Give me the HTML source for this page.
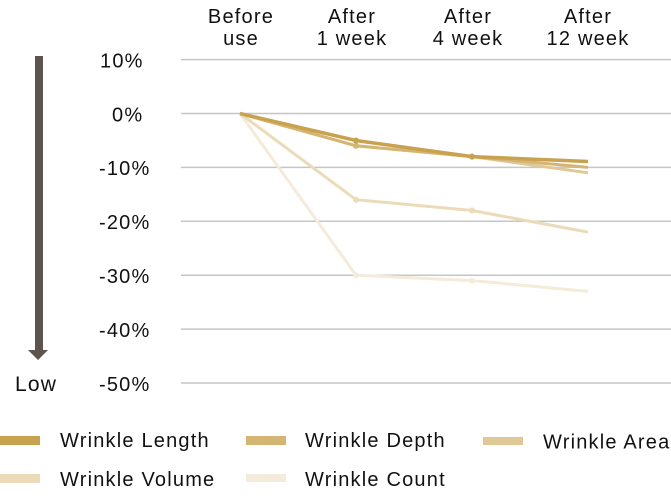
<!DOCTYPE html>
<html>
<head>
<meta charset="utf-8">
<style>
  html, body { margin:0; padding:0; background:#fff; }
  svg { display:block; }
  text { font-family: "Liberation Sans", sans-serif; fill:#111; font-size:20px; letter-spacing:1.2px; }
</style>
</head>
<body>
<svg width="671" height="496" viewBox="0 0 671 496" xmlns="http://www.w3.org/2000/svg">
  <!-- category labels -->
  <g text-anchor="middle">
    <text x="241" y="23">Before</text>
    <text x="241" y="45">use</text>
    <text x="352" y="23">After</text>
    <text x="352" y="45">1 week</text>
    <text x="468" y="23">After</text>
    <text x="468" y="45">4 week</text>
    <text x="588" y="23">After</text>
    <text x="588" y="45">12 week</text>
  </g>

  <!-- gridlines -->
  <g stroke="#c6c6c6" stroke-width="1.5">
    <line x1="181" y1="59.6" x2="671" y2="59.6"/>
    <line x1="181" y1="113.5" x2="671" y2="113.5"/>
    <line x1="181" y1="167.4" x2="671" y2="167.4"/>
    <line x1="181" y1="221.3" x2="671" y2="221.3"/>
    <line x1="181" y1="275.2" x2="671" y2="275.2"/>
    <line x1="181" y1="329.1" x2="671" y2="329.1"/>
    <line x1="181" y1="383" x2="671" y2="383"/>
  </g>

  <!-- y labels -->
  <text x="100" y="67.5">10%</text>
  <text x="112" y="121.5">0%</text>
  <text x="99" y="175">-10%</text>
  <text x="99" y="229">-20%</text>
  <text x="99" y="283">-30%</text>
  <text x="99" y="337">-40%</text>
  <text x="99" y="391">-50%</text>

  <!-- arrow -->
  <rect x="35" y="56" width="8" height="295" fill="#5e544e"/>
  <polygon points="28,350 48,350 38,360" fill="#5e544e"/>
  <text x="15" y="391" style="font-size:21px">Low</text>

  <!-- Count: 0,-30,-31,-33 -->
  <g stroke="#f4ebda" fill="#f4ebda">
    <polyline points="240,113.5 356,275.2 472,280.6 588,291.4" fill="none" stroke-width="3"/>
    <circle cx="356" cy="275.2" r="3" stroke="none"/>
    <circle cx="472" cy="280.6" r="3" stroke="none"/>
  </g>
  <!-- Volume: 0,-16,-18,-22 -->
  <g stroke="#ebdbb8" fill="#ebdbb8">
    <polyline points="240,113.5 356,199.7 472,210.5 588,232.1" fill="none" stroke-width="3"/>
    <circle cx="356" cy="199.7" r="3" stroke="none"/>
    <circle cx="472" cy="210.5" r="3" stroke="none"/>
  </g>
  <!-- Area: 0,-6,-8,-11 -->
  <g stroke="#e0c896" fill="#e0c896">
    <polyline points="240,113.5 356,145.8 472,156.6 588,172.8" fill="none" stroke-width="3"/>
    <circle cx="356" cy="145.8" r="3" stroke="none"/>
    <circle cx="472" cy="156.6" r="3" stroke="none"/>
  </g>
  <!-- Depth: 0,-6,-8,-10 -->
  <g stroke="#d5b574" fill="#d5b574">
    <polyline points="240,113.5 356,145.8 472,156.6 588,167.4" fill="none" stroke-width="3"/>
    <circle cx="356" cy="145.8" r="3" stroke="none"/>
    <circle cx="472" cy="156.6" r="3" stroke="none"/>
  </g>
  <!-- Length: 0,-5,-8,-8.9 -->
  <g stroke="#c8a24e" fill="#c8a24e">
    <polyline points="240,113.5 356,140.5 472,156.6 588,161.5" fill="none" stroke-width="3.5"/>
    <circle cx="356" cy="140.5" r="3" stroke="none"/>
    <circle cx="472" cy="156.6" r="3" stroke="none"/>
  </g>

  <!-- legend -->
  <rect x="0" y="436" width="40" height="9" fill="#c8a24e"/>
  <text x="60" y="447">Wrinkle Length</text>
  <rect x="246" y="436" width="40" height="9" fill="#d5b574"/>
  <text x="305" y="447">Wrinkle Depth</text>
  <rect x="483" y="437" width="40" height="8" fill="#e0c896"/>
  <text x="543" y="448.5">Wrinkle Area</text>

  <rect x="0" y="474" width="40" height="9" fill="#ebdbb8"/>
  <text x="60" y="486">Wrinkle Volume</text>
  <rect x="246" y="474" width="40" height="8" fill="#f4ebda"/>
  <text x="305" y="486">Wrinkle Count</text>
</svg>
</body>
</html>
